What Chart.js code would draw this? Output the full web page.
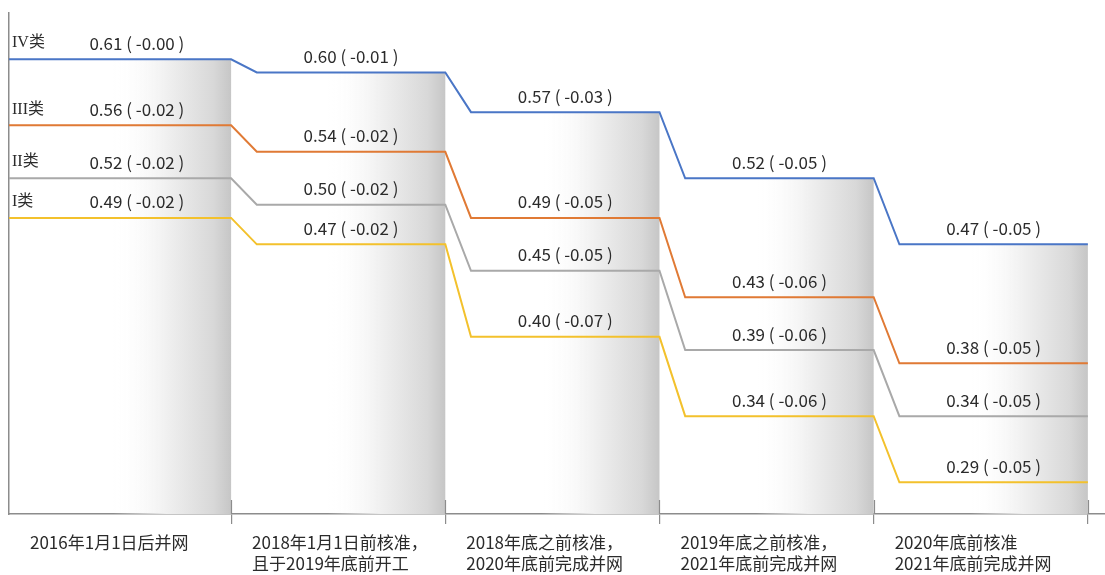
<!DOCTYPE html>
<html>
<head>
<meta charset="utf-8">
<script src="https://cdn.jsdelivr.net/npm/chart.js@4.4.1/dist/chart.umd.min.js"></script>
<style>
html,body{margin:0;padding:0;background:#ffffff;}
#wrap{width:1105px;height:575px;position:relative;}
</style>
</head>
<body>
<div id="wrap"><canvas id="c" width="1105" height="575"></canvas></div>
<script>
// ---------- data ----------
const categories = [
  ['2016年1月1日后并网'],
  ['2018年1月1日前核准，', '且于2019年底前开工'],
  ['2018年底之前核准，', '2020年底前完成并网'],
  ['2019年底之前核准，', '2021年底前完成并网'],
  ['2020年底前核准', '2021年底前完成并网']
];
const seriesNames = ['IV类', 'III类', 'II类', 'I类'];
const valuesIV  = [0.61, 0.60, 0.57, 0.52, 0.47];
const valuesIII = [0.56, 0.54, 0.49, 0.43, 0.38];
const valuesII  = [0.52, 0.50, 0.45, 0.39, 0.34];
const valuesI   = [0.49, 0.47, 0.40, 0.34, 0.29];
const changesIV  = [-0.00, -0.01, -0.03, -0.05, -0.05];
const changesIII = [-0.02, -0.02, -0.05, -0.06, -0.05];
const changesII  = [-0.02, -0.02, -0.05, -0.06, -0.05];
const changesI   = [-0.02, -0.02, -0.07, -0.06, -0.05];

// ---------- styling / layout ----------
const seriesValues  = [valuesIV, valuesIII, valuesII, valuesI];
const seriesChanges = [changesIV, changesIII, changesII, changesI];
const seriesColors  = ['#4a76c6', '#e07a35', '#a9a9a9', '#f3c12c'];
const X_MIN = -0.037, X_MAX = 5.08;
const SLOPE_W = 0.12;      // width of the drop between periods (in period units)
const SHADE_FROM = 0.45;   // shading starts at this fraction of a period
const LABEL_POS = 0.56;    // centre of value labels within a period
const AXIS_COLOR = '#8c8c8c';
const TEXT_COLOR = '#2b2b2b';
const NUM_FONT = '17px "Noto Sans CJK SC", "Noto Sans", sans-serif';
const CAT_FONT = '17px "Noto Sans CJK SC", sans-serif';
const NAME_FONT = '16px "Liberation Serif", "Noto Sans CJK SC", serif';

function fmtChange(c) {
  return (c <= 0 ? '-' : '+') + Math.abs(c).toFixed(2);
}

function stepPoints(vals) {
  const pts = [];
  vals.forEach((v, i) => {
    pts.push({x: i === 0 ? X_MIN : i + SLOPE_W, y: v});
    pts.push({x: i + 1, y: v});
  });
  return pts;
}

const datasets = seriesValues.map((vals, s) => ({
  label: seriesNames[s],
  data: stepPoints(vals),
  borderColor: seriesColors[s],
  backgroundColor: seriesColors[s],
  borderWidth: 2,
  pointRadius: 0,
  tension: 0,
  fill: false
}));

const overlay = {
  id: 'overlay',
  beforeDatasetsDraw(chart) {
    const {ctx, chartArea, scales: {x, y}} = chart;
    ctx.save();
    for (let i = 0; i < categories.length; i++) {
      const x0 = x.getPixelForValue(i + SHADE_FROM);
      const x1 = x.getPixelForValue(i + 1);
      const top = Math.max(...seriesValues.map(s => s[i]));
      const yt = y.getPixelForValue(top);
      const g = ctx.createLinearGradient(x0, 0, x1, 0);
      g.addColorStop(0, 'rgba(255,255,255,0)');
      g.addColorStop(0.45, 'rgba(240,240,240,1)');
      g.addColorStop(0.85, 'rgba(216,216,216,1)');
      g.addColorStop(1, 'rgba(198,198,198,1)');
      ctx.fillStyle = g;
      ctx.fillRect(x0, yt, x1 - x0, chartArea.bottom - yt);
    }
    ctx.restore();
  },
  afterDraw(chart) {
    const {ctx, chartArea, scales: {x, y}} = chart;
    ctx.save();
    // tick marks crossing the axis (upper part)
    ctx.strokeStyle = AXIS_COLOR;
    ctx.lineWidth = 1.2;
    for (let i = 1; i <= categories.length; i++) {
      const px = Math.round(x.getPixelForValue(i)) + 0.5;
      ctx.beginPath();
      ctx.moveTo(px, chartArea.bottom - 14);
      ctx.lineTo(px, chartArea.bottom);
      ctx.stroke();
    }
    // value labels
    ctx.fillStyle = TEXT_COLOR;
    ctx.font = NUM_FONT;
    ctx.textAlign = 'center';
    ctx.textBaseline = 'middle';
    seriesValues.forEach((vals, s) => {
      vals.forEach((v, i) => {
        const px = x.getPixelForValue(i + LABEL_POS);
        const py = y.getPixelForValue(v) - 16;
        ctx.fillText(v.toFixed(2) + ' ( ' + fmtChange(seriesChanges[s][i]) + ' )', px, py);
      });
    });
    // series names
    ctx.font = NAME_FONT;
    ctx.textAlign = 'left';
    seriesValues.forEach((vals, s) => {
      ctx.fillText(seriesNames[s], chartArea.left + 3, y.getPixelForValue(vals[0]) - 16);
    });
    // category labels
    ctx.font = CAT_FONT;
    ctx.textAlign = 'left';
    categories.forEach((lines, i) => {
      const px = x.getPixelForValue(i === 0 ? X_MIN : i) + 21;
      lines.forEach((t, k) => {
        ctx.fillText(t, px, chartArea.bottom + 29 + k * 21);
      });
    });
    ctx.restore();
  }
};

new Chart(document.getElementById('c'), {
  type: 'line',
  data: {datasets},
  options: {
    responsive: false,
    animation: false,
    events: [],
    layout: {padding: {top: 13, left: 9, right: 0, bottom: 51}},
    plugins: {legend: {display: false}, tooltip: {enabled: false}},
    scales: {
      x: {
        type: 'linear',
        min: X_MIN,
        max: X_MAX,
        bounds: 'data',
        afterBuildTicks: axis => {
          axis.ticks = categories.map((c, i) => ({value: i + 1}));
        },
        ticks: {display: false},
        grid: {display: true, drawOnChartArea: false, drawTicks: true, tickLength: 10, color: AXIS_COLOR, lineWidth: 1.2},
        border: {display: true, color: AXIS_COLOR, width: 1.5}
      },
      y: {
        type: 'linear',
        min: 0.266,
        max: 0.645,
        ticks: {display: false},
        grid: {display: false, drawTicks: false},
        border: {display: true, color: AXIS_COLOR, width: 1.5}
      }
    }
  },
  plugins: [overlay]
});
</script>
</body>
</html>
